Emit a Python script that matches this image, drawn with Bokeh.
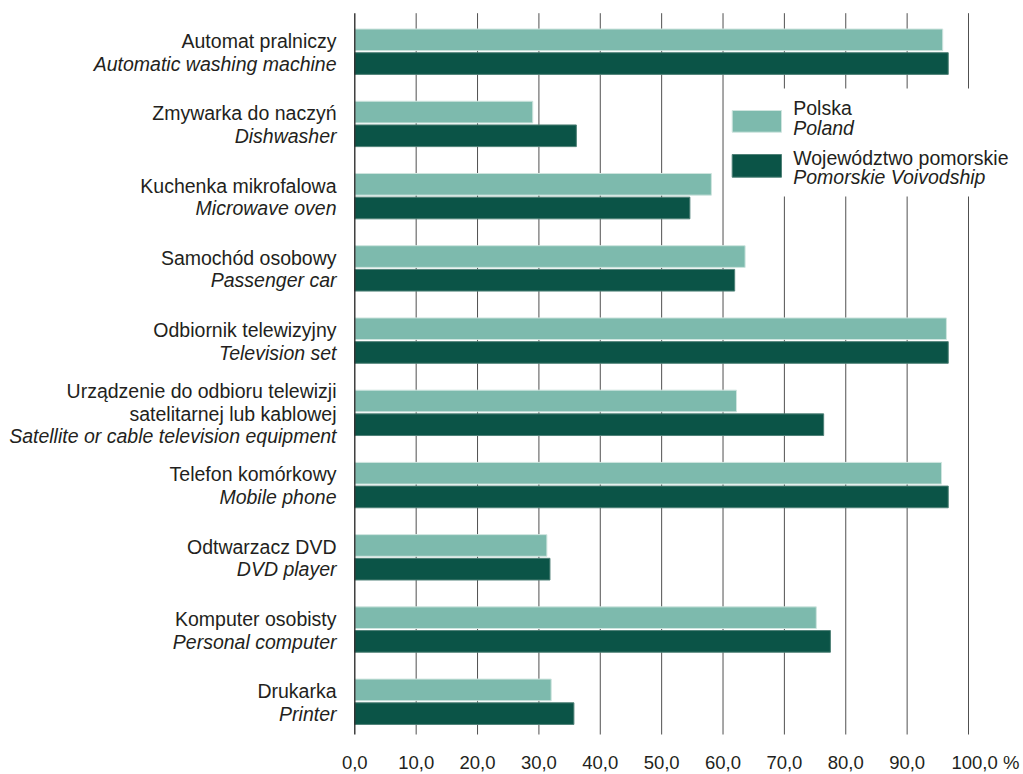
from bokeh.plotting import figure
from bokeh.models import Range1d, ColumnDataSource, Grid
from bokeh.core.properties import value
from bokeh.transform import dodge
from bokeh.embed import file_html
from bokeh.resources import INLINE

# ---------------- data ----------------
categories_pl = [
    "Automat pralniczy",
    "Zmywarka do naczyń",
    "Kuchenka mikrofalowa",
    "Samochód osobowy",
    "Odbiornik telewizyjny",
    "Urządzenie do odbioru telewizji\nsatelitarnej lub kablowej",
    "Telefon komórkowy",
    "Odtwarzacz DVD",
    "Komputer osobisty",
    "Drukarka",
]
categories_en = [
    "Automatic washing machine",
    "Dishwasher",
    "Microwave oven",
    "Passenger car",
    "Television set",
    "Satellite or cable television equipment",
    "Mobile phone",
    "DVD player",
    "Personal computer",
    "Printer",
]
polska = [95.8, 29.0, 58.1, 63.6, 96.4, 62.2, 95.6, 31.3, 75.2, 32.0]
pomorskie = [96.7, 36.1, 54.6, 61.9, 96.7, 76.4, 96.7, 31.8, 77.5, 35.7]
ticks = [0, 10, 20, 30, 40, 50, 60, 70, 80, 90, 100]
tick_labels = ["0,0", "10,0", "20,0", "30,0", "40,0", "50,0", "60,0", "70,0",
               "80,0", "90,0", "100,0 %"]
series_pl = ["Polska", "Województwo pomorskie"]
series_en = ["Poland", "Pomorskie Voivodship"]

# ---------------- layout constants ----------------
W, H = 1023, 774
X0, SX = 354.3, 6.137      # px of value 0, px per unit
Y0, SY = 51.2, 72.23       # px of first category centre, px per category
LIGHT, DARK = "#7dbaad", "#0b5447"
TXT = "#231f20"
FONT = value("Liberation Sans")


def fx(px):
    return (px - X0) / SX


def fy(py):
    return (py - Y0) / SY


p = figure(width=W, height=H,
           x_range=Range1d(fx(0), fx(W)),
           y_range=Range1d(fy(H), fy(0)),
           output_backend="svg", toolbar_location=None,
           x_axis_location=None, y_axis_location=None,
           min_border=0, min_border_left=0, min_border_right=0,
           min_border_top=0, min_border_bottom=0,
           outline_line_color=None, background_fill_color="white",
           border_fill_color="white")
p.center = [r for r in p.center if not isinstance(r, Grid)]

n = len(categories_pl)
idx = list(range(n))

# grid lines
grid_top, grid_bot = fy(12.7), fy(734)
p.segment(x0=ticks[1:], y0=[grid_top] * (len(ticks) - 1), x1=ticks[1:],
          y1=[grid_bot] * (len(ticks) - 1), line_color="#505050", line_width=1)

# legend background (white, hides grid lines)
p.quad(left=[fx(725)], right=[fx(1030)], top=[fy(88)], bottom=[fy(196)],
       fill_color="white", line_color=None)

# bars
src = ColumnDataSource(dict(idx=idx, polska=polska, pomorskie=pomorskie))
p.hbar(y=dodge("idx", -0.164, range=p.y_range), left=0, right="polska",
       height=0.30, source=src, fill_color=LIGHT, line_color="#cfe5df",
       line_width=1)
p.hbar(y=dodge("idx", 0.164, range=p.y_range), left=0, right="pomorskie",
       height=0.30, source=src, fill_color=DARK, line_color="#4f8177",
       line_width=1)

# zero line on top
p.segment(x0=[ticks[0]], y0=[grid_top], x1=[ticks[0]], y1=[grid_bot],
          line_color="#222222", line_width=1.3)

# category labels
rows = dict(y=[], off=[], txt=[], it=[])
for i in idx:
    lines = categories_pl[i].split("\n")
    allines = lines + [categories_en[i]]
    m = len(allines)
    for k, t in enumerate(allines):
        rows["y"].append(i)
        rows["off"].append(0.7 + (k - (m - 1) / 2) * 22.6)
        rows["txt"].append(t)
        rows["it"].append(k == m - 1)
pl_src = ColumnDataSource({k: [v for v, it in zip(rows[k], rows["it"]) if not it]
                           for k in ("y", "off", "txt")})
en_src = ColumnDataSource({k: [v for v, it in zip(rows[k], rows["it"]) if it]
                           for k in ("y", "off", "txt")})
p.text(x=0, y="y", text="txt", y_offset="off", x_offset=-18.3, source=pl_src,
       text_align="right", text_baseline="middle", text_font=FONT,
       text_font_size="19.5px", text_color=TXT)
p.text(x=0, y="y", text="txt", y_offset="off", x_offset=-18.3, source=en_src,
       text_align="right", text_baseline="middle", text_font=FONT,
       text_font_size="19.5px", text_font_style="italic", text_color=TXT)

# tick labels
tick_y = fy(762)
p.text(x=ticks[:-1], y=[tick_y] * (len(ticks) - 1), text=tick_labels[:-1],
       text_align="center", text_baseline="middle", text_font=FONT,
       text_font_size="18.5px", text_color=TXT)
p.text(x=ticks[-1:], y=[tick_y], text=tick_labels[-1:], x_offset=-17,
       text_align="left", text_baseline="middle", text_font=FONT,
       text_font_size="18.5px", text_color=TXT)

# legend
sw_l, sw_r = fx(731.7), fx(781)
p.quad(left=[sw_l], right=[sw_r], top=[fy(110)], bottom=[fy(131.7)],
       fill_color=LIGHT, line_color="#cfe5df", line_width=1)
p.quad(left=[sw_l], right=[sw_r], top=[fy(154)], bottom=[fy(176.7)],
       fill_color=DARK, line_color="#4f8177", line_width=1)
lx = fx(792.7)
p.text(x=[lx, lx], y=[fy(107.5), fy(157.2)], text=series_pl,
       text_align="left", text_baseline="middle", text_font=FONT,
       text_font_size="19.5px", text_color=TXT)
p.text(x=[lx, lx], y=[fy(127.5), fy(176.7)], text=series_en,
       text_align="left", text_baseline="middle", text_font=FONT,
       text_font_size="19.5px", text_font_style="italic", text_color=TXT)

open("out.html", "w").write(file_html(p, INLINE))
